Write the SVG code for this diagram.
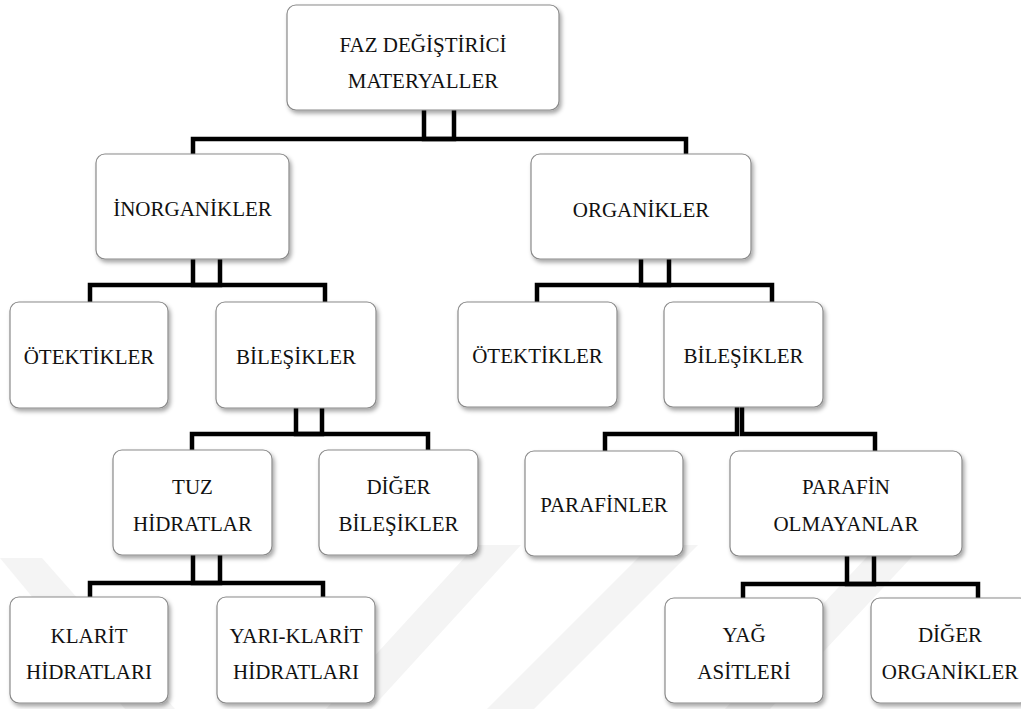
<svg xmlns="http://www.w3.org/2000/svg" width="1021" height="709" viewBox="0 0 1021 709">
  <defs>
    <filter id="shadow" x="-10%" y="-10%" width="125%" height="130%">
      <feDropShadow dx="2" dy="3" stdDeviation="2" flood-color="#000" flood-opacity="0.35"/>
    </filter>
    <style>
      .box { fill: #ffffff; stroke: #8a8a8a; stroke-width: 1.2; filter: url(#shadow); }
      .lbl { font-family: 'Liberation Serif', 'Times New Roman', serif; font-size: 21px; fill: #111; text-anchor: middle; }
      .link { fill: none; stroke: #000; stroke-width: 4.5; stroke-linejoin: miter; }
      .wm { fill: #f4f4f4; }
    </style>
  </defs>

  <rect width="1021" height="709" fill="#ffffff"/>

  <!-- faint background watermark bands -->
  <g id="watermark">
    <polygon class="wm" points="0,558 42,558 175,709 125,709"/>
    <polygon class="wm" points="476,545 521,545 371,709 326,709"/>
    <polygon class="wm" points="651,545 698,545 534,709 487,709"/>
    <polygon class="wm" points="878,545 923,545 770,709 725,709"/>
  </g>

  <!-- elbow connectors -->
  <g id="connectors">
    <path class="link" d="M454,110 V139 H193 V154"/>
    <path class="link" d="M424,110 V139 H686 V154"/>
    <path class="link" d="M220,259 V285 H90 V302"/>
    <path class="link" d="M193,259 V285 H325 V302"/>
    <path class="link" d="M669,259 V285 H537 V302"/>
    <path class="link" d="M641,259 V285 H772 V302"/>
    <path class="link" d="M322,408 V434 H192 V450"/>
    <path class="link" d="M296,408 V434 H428 V450"/>
    <path class="link" d="M737,407 V434 H605 V451"/>
    <path class="link" d="M742,407 V434 H875 V451"/>
    <path class="link" d="M220,555 V583 H90 V597"/>
    <path class="link" d="M193,555 V583 H323 V597"/>
    <path class="link" d="M874,556 V584 H743 V598"/>
    <path class="link" d="M847,556 V584 H978 V598"/>
  </g>

  <g id="faz-degistirici">
    <rect class="box" x="287" y="5" width="272" height="105" rx="9"/>
    <text class="lbl" x="423" y="52">FAZ DEĞİŞTİRİCİ</text>
    <text class="lbl" x="423" y="88">MATERYALLER</text>
  </g>

  <g id="inorganikler">
    <rect class="box" x="96" y="154" width="193" height="105" rx="9"/>
    <text class="lbl" x="192.5" y="216">İNORGANİKLER</text>
  </g>

  <g id="organikler">
    <rect class="box" x="531" y="154" width="220" height="105" rx="9"/>
    <text class="lbl" x="641" y="216.5">ORGANİKLER</text>
  </g>

  <g id="inorg-otektikler">
    <rect class="box" x="10" y="302" width="158" height="106" rx="9"/>
    <text class="lbl" x="89" y="364">ÖTEKTİKLER</text>
  </g>

  <g id="inorg-bilesikler">
    <rect class="box" x="216" y="302" width="160" height="106" rx="9"/>
    <text class="lbl" x="296" y="364">BİLEŞİKLER</text>
  </g>

  <g id="org-otektikler">
    <rect class="box" x="458" y="302" width="159" height="105" rx="9"/>
    <text class="lbl" x="537.5" y="363">ÖTEKTİKLER</text>
  </g>

  <g id="org-bilesikler">
    <rect class="box" x="664" y="302" width="159" height="105" rx="9"/>
    <text class="lbl" x="743.5" y="363">BİLEŞİKLER</text>
  </g>

  <g id="tuz-hidratlar">
    <rect class="box" x="113" y="450" width="159" height="105" rx="9"/>
    <text class="lbl" x="192.5" y="494">TUZ</text>
    <text class="lbl" x="192.5" y="531">HİDRATLAR</text>
  </g>

  <g id="diger-bilesikler">
    <rect class="box" x="319" y="450" width="159" height="105" rx="9"/>
    <text class="lbl" x="398.5" y="494">DİĞER</text>
    <text class="lbl" x="398.5" y="531">BİLEŞİKLER</text>
  </g>

  <g id="parafinler">
    <rect class="box" x="525" y="451" width="158" height="105" rx="9"/>
    <text class="lbl" x="604" y="512">PARAFİNLER</text>
  </g>

  <g id="parafin-olmayanlar">
    <rect class="box" x="730" y="451" width="232" height="105" rx="9"/>
    <text class="lbl" x="846" y="494">PARAFİN</text>
    <text class="lbl" x="846" y="531">OLMAYANLAR</text>
  </g>

  <g id="klarit-hidratlari">
    <rect class="box" x="10" y="597" width="158" height="106" rx="9"/>
    <text class="lbl" x="89" y="643">KLARİT</text>
    <text class="lbl" x="89" y="679">HİDRATLARI</text>
  </g>

  <g id="yari-klarit-hidratlari">
    <rect class="box" x="217" y="597" width="158" height="106" rx="9"/>
    <text class="lbl" x="296" y="643">YARI-KLARİT</text>
    <text class="lbl" x="296" y="679">HİDRATLARI</text>
  </g>

  <g id="yag-asitleri">
    <rect class="box" x="665" y="598" width="158" height="105" rx="9"/>
    <text class="lbl" x="744" y="642">YAĞ</text>
    <text class="lbl" x="744" y="679">ASİTLERİ</text>
  </g>

  <g id="diger-organikler">
    <rect class="box" x="871" y="598" width="158" height="105" rx="9"/>
    <text class="lbl" x="950" y="642">DİĞER</text>
    <text class="lbl" x="950" y="679">ORGANİKLER</text>
  </g>
</svg>
